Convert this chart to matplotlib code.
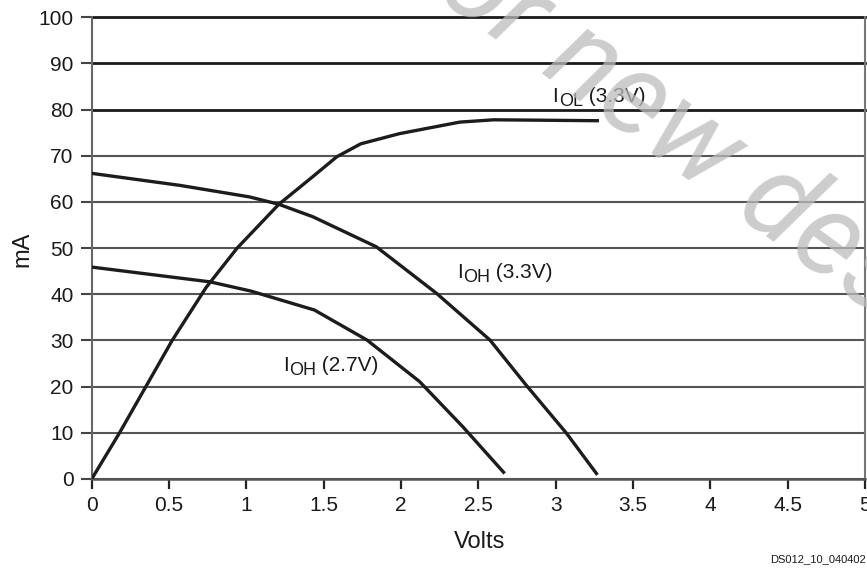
import numpy as np
import matplotlib
matplotlib.use("Agg")
import matplotlib.pyplot as plt
from matplotlib.font_manager import FontProperties
from matplotlib.transforms import IdentityTransform

plt.rcParams['font.family'] = ['Liberation Sans', 'DejaVu Sans']
plt.rcParams['mathtext.default'] = 'regular'

# ---- data ----
iol_33_v = [0, 0.18, 0.35, 0.52, 0.74, 0.94, 1.21, 1.43, 1.585, 1.74, 1.99, 2.38, 2.6, 3.28]
iol_33_ma = [0, 10, 20, 30, 41.5, 50, 59.5, 65.5, 69.8, 72.6, 74.8, 77.3, 77.8, 77.6]

ioh_33_v = [0, 0.57, 1.02, 1.21, 1.43, 1.84, 2.23, 2.575, 2.81, 3.07, 3.27]
ioh_33_ma = [66.2, 63.6, 61.1, 59.5, 56.8, 50.3, 40.2, 30.1, 20.3, 9.9, 0.9]

ioh_27_v = [0, 0.765, 1.03, 1.44, 1.78, 2.12, 2.40, 2.67]
ioh_27_ma = [45.9, 42.7, 40.7, 36.6, 30.1, 21.1, 11.3, 1.2]

x_ticks = [0, 0.5, 1, 1.5, 2, 2.5, 3, 3.5, 4, 4.5, 5]
x_tick_labels = ['0', '0.5', '1', '1.5', '2', '2.5', '3', '3.5', '4', '4.5', '5']
y_ticks = [0, 10, 20, 30, 40, 50, 60, 70, 80, 90, 100]

W, H = 867, 571
fig = plt.figure(figsize=(W / 100, H / 100), dpi=100)
ax = fig.add_axes([91.7 / W, 1 - 479 / H, (865 - 91.7) / W, (479 - 17.3) / H])
ax.set_xlim(0, 5)
ax.set_ylim(0, 100)

# gridlines
for yv in y_ticks:
    if yv >= 80:
        ax.axhline(yv, color='#1a1a1a', lw=2.0, zorder=2, clip_on=False)
    else:
        ax.axhline(yv, color='#555555', lw=1.5, zorder=2)

ax.spines['top'].set_visible(False)
ax.spines['left'].set_color('#666666')
ax.spines['left'].set_linewidth(1.5)
ax.spines['right'].set_color('#777777')
ax.spines['right'].set_linewidth(1.5)
ax.spines['bottom'].set_color('#555555')
ax.spines['bottom'].set_linewidth(1.8)

lc = '#1c1c1c'
lw = 2.4
ax.plot(iol_33_v, iol_33_ma, color=lc, lw=lw, zorder=4, solid_capstyle='butt')
ax.plot(ioh_33_v, ioh_33_ma, color=lc, lw=lw, zorder=4, solid_capstyle='butt')
ax.plot(ioh_27_v, ioh_27_ma, color=lc, lw=lw, zorder=4, solid_capstyle='butt')

ax.set_xticks(x_ticks)
ax.set_xticklabels(x_tick_labels)
ax.set_yticks(y_ticks)
ax.tick_params(axis='x', length=7, width=1.6, color='#222222', labelsize=15, pad=5)
ax.tick_params(axis='y', length=8, width=1.5, color='#444444', labelsize=15, pad=5)
for lab in ax.get_xticklabels() + ax.get_yticklabels():
    lab.set_color('#1a1a1a')

fig.text(480 / W, 1 - 542 / H, 'Volts', fontsize=17, ha='center', va='center', color='#1a1a1a')
fig.text(22 / W, 1 - 249 / H, 'mA', fontsize=17, ha='center', va='center', rotation=90, color='#1a1a1a')

renderer = fig.canvas.get_renderer()


def sub_label(xv, yv, main, sub, rest, size=15, subsize=13, drop=4):
    """Draw main + lowered subscript + rest, starting at data point (xv, yv) baseline-left."""
    px, py = ax.transData.transform((xv, yv))
    kw = dict(transform=IdentityTransform(), ha='left', va='baseline', color='#1a1a1a', zorder=1.2)
    t1 = fig.text(px, py, main, fontsize=size, **kw)
    w1 = t1.get_window_extent(renderer).width
    t2 = fig.text(px + w1 + 0.5, py - drop, sub, fontsize=subsize, **kw)
    w2 = t2.get_window_extent(renderer).width
    fig.text(px + w1 + 0.5 + w2, py, rest, fontsize=size, **kw)


sub_label(2.98, 81.6, 'I', 'OL', ' (3.3V)')
sub_label(2.36, 43.6, 'I', 'OH', ' (3.3V)')
sub_label(1.237, 23.3, 'I', 'OH', ' (2.7V)')

fig.text(0.999, 0.012, 'DS012_10_040402', fontsize=8, ha='right', va='bottom', color='#1a1a1a')

# watermark
wm_fp = FontProperties(family=['Roboto', 'Open Sans', 'DejaVu Sans'], style='italic', weight='normal')
wm_text = 'Not recommended for new designs'
prefix = 'Not recommended for '


def width_of(s, size):
    fp = wm_fp.copy()
    fp.set_size(size)
    t = fig.text(0, 0, s, fontproperties=fp)
    w = t.get_window_extent(renderer).width
    t.remove()
    return w


w_new = width_of('new d', 100) - width_of('d', 100)
size = 100 * 238.0 / w_new
pw = width_of(prefix + 'n', size) - width_of('n', size)
ang = -36.0
dvec = np.array([np.cos(np.radians(ang)), np.sin(np.radians(ang))])
target = np.array([540.0, H - 72.0])
anchor = target - pw * dvec
fp = wm_fp.copy()
fp.set_size(size)
fig.text(anchor[0], anchor[1], wm_text, transform=IdentityTransform(), rotation=ang,
         rotation_mode='anchor', ha='left', va='baseline', zorder=1.8,
         fontproperties=fp, color='#bcbcbc', alpha=0.75)

fig.savefig('out.png', dpi=100)
